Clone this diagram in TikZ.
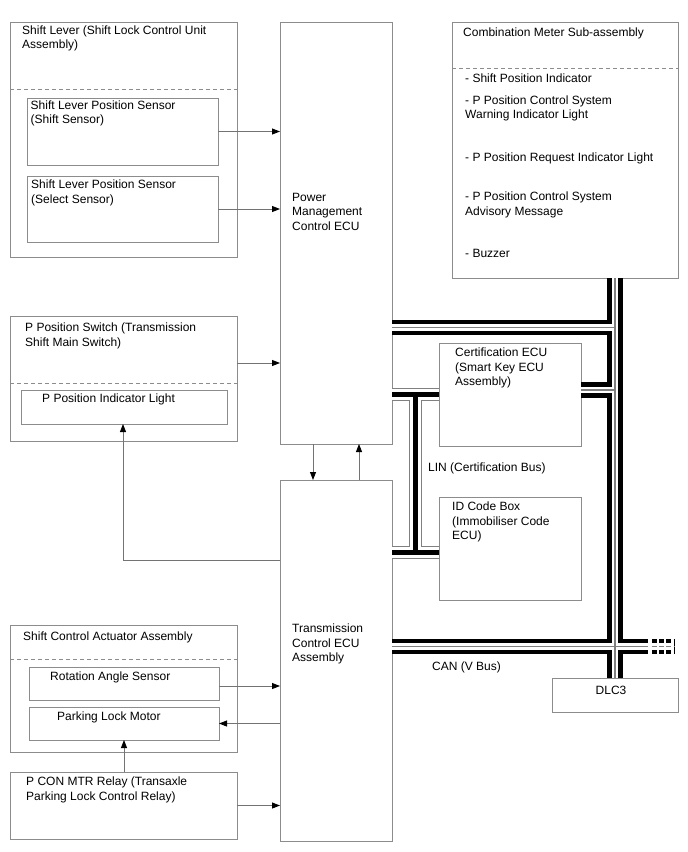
\documentclass[tikz,border=0pt]{standalone}
\usepackage{fontspec}
\setmainfont{Liberation Sans}
\usetikzlibrary{arrows.meta}
\definecolor{boxgray}{gray}{0.55}
\definecolor{linegray}{gray}{0.45}
\newcommand\canpaths[1]{%
 \draw[#1] (pm.east |- 0,327.5) -- (cj1);
 \draw[#1] (cert.east |- 0,390) -- (cj2);
 \draw[#1] (cm.south -| cj1) -- (dlc.north -| cj1);
 \draw[#1] (tcu.east |- 0,646.5) -- (canmid);
}
\newcommand\linpaths[1]{%
 \draw[#1] (pm.east |- 0,394.5) -- (cert.west |- 0,394.5);
 \draw[#1] (pm.east |- 0,552.5) -- (idb.west |- 0,552.5);
 \draw[#1] (lj1) -- (lj2);
}
\begin{document}
\begin{tikzpicture}[x=1pt,y=-1pt,
  box/.style={draw=boxgray, line width=0.9pt, inner sep=0pt, outer sep=0pt, anchor=north west},
  txt/.style={anchor=north west, inner sep=0pt, align=left, font=\fontsize{12}{14.5}\selectfont},
  sep/.style={draw=boxgray, line width=0.9pt, dash pattern=on 4pt off 3pt},
  arr/.style={draw=linegray, line width=0.9pt, -{Triangle[length=8pt,width=6pt,color=black]}},
  canB/.style={line width=15.3pt, black},
  canW/.style={line width=6.3pt, white},
  canG/.style={line width=1.3pt, black!50},
  linG/.style={line width=12.4pt, black!50},
  linW/.style={line width=10.4pt, white},
  linB/.style={line width=4.4pt, black},
]
\useasboundingbox (0,0) rectangle (688,852);
% boxes
\node[box, minimum width=227pt, minimum height=235pt] (sl) at (10,22) {};
\node[box, minimum width=191pt, minimum height=67pt] (s1) at (27,98) {};
\node[box, minimum width=191pt, minimum height=66pt] (s2) at (27,176) {};
\node[box, minimum width=112pt, minimum height=422pt] (pm) at (280,22) {};
\node[box, minimum width=226pt, minimum height=256pt] (cm) at (452,22) {};
\node[box, minimum width=227pt, minimum height=125pt] (pps) at (10,316) {};
\node[box, minimum width=206pt, minimum height=34pt] (pil) at (21,390) {};
\node[box, minimum width=142pt, minimum height=103pt] (cert) at (439,343) {};
\node[box, minimum width=142pt, minimum height=103pt] (idb) at (439,497) {};
\node[box, minimum width=112pt, minimum height=361pt] (tcu) at (280,480) {};
\node[box, minimum width=227pt, minimum height=127pt] (sca) at (10,625) {};
\node[box, minimum width=190pt, minimum height=33pt] (ras) at (29,667) {};
\node[box, minimum width=190pt, minimum height=33pt] (plm) at (29,707) {};
\node[box, minimum width=227pt, minimum height=67pt] (rel) at (10,772) {};
\node[box, minimum width=126pt, minimum height=34pt] (dlc) at (552,678) {};
% dashed separators
\draw[sep] (sl.west |- 0,89) -- (sl.east |- 0,89);
\draw[sep] (cm.west |- 0,68) -- (cm.east |- 0,68);
\draw[sep] (pps.west |- 0,383) -- (pps.east |- 0,383);
\draw[sep] (sca.west |- 0,659) -- (sca.east |- 0,659);
% texts
\node[txt] (tsl) at (22,25.6) {Shift Lever (Shift Lock Control Unit\\Assembly)};
\node[txt] (ts1) at (30.5,100.6) {Shift Lever Position Sensor\\(Shift Sensor)};
\node[txt] (ts2) at (31,179.6) {Shift Lever Position Sensor\\(Select Sensor)};
\node[txt] (tpm) at (292,192.6) {Power\\Management\\Control ECU};
\node[txt] (tcm) at (463,27.6) {Combination Meter Sub-assembly};
\node[txt] (tcm1) at (465,73.6) {- Shift Position Indicator};
\node[txt] (tcm2) at (465,95.6) {- P Position Control System\\Warning Indicator Light};
\node[txt] (tcm3) at (465,152.6) {- P Position Request Indicator Light};
\node[txt] (tcm4) at (465,191.6) {- P Position Control System\\Advisory Message};
\node[txt] (tcm5) at (465,248.6) {- Buzzer};
\node[txt] (tpps) at (25,322.6) {P Position Switch (Transmission\\Shift Main Switch)};
\node[txt] (tpil) at (42,393.6) {P Position Indicator Light};
\node[txt] (tcert) at (455,347.6) {Certification ECU\\(Smart Key ECU\\Assembly)};
\node[txt] (tlin) at (428,462.6) {LIN (Certification Bus)};
\node[txt] (tidb) at (452,501.6) {ID Code Box\\(Immobiliser Code\\ECU)};
\node[txt] (ttcu) at (292,623.6) {Transmission\\Control ECU\\Assembly};
\node[txt] (tsca) at (23,631.6) {Shift Control Actuator Assembly};
\node[txt] (tras) at (50,671.6) {Rotation Angle Sensor};
\node[txt] (tplm) at (57,711.6) {Parking Lock Motor};
\node[txt] (trel) at (26,776.6) {P CON MTR Relay (Transaxle\\Parking Lock Control Relay)};
\node[txt] (tcan) at (432,661.6) {CAN (V Bus)};
\node[inner sep=0pt, font=\fontsize{12}{14.5}\selectfont] (tdlc) at (611,690) {DLC3};
% arrows
\draw[arr] (s1.east) -- (s1.east -| pm.west);
\draw[arr] (s2.east) -- (s2.east -| pm.west);
\draw[arr] (pps.east |- 0,363) -- (pm.west |- 0,363);
\draw[arr] (tcu.west |- 0,560) -| (pil.south -| 123,0);
\draw[arr] (pm.south -| 313,0) -- (tcu.north -| 313,0);
\draw[arr] (tcu.north -| 359,0) -- (pm.south -| 359,0);
\draw[arr] (ras.east |- 0,686) -- (tcu.west |- 0,686);
\draw[arr] (tcu.west |- plm.east) -- (plm.east);
\draw[arr] (rel.east) -- (rel.east -| tcu.west);
\draw[arr] (rel.north -| 124,0) -- (plm.south -| 124,0);
% buses
\coordinate (cj1) at (615,327.5);
\coordinate (cj2) at (615,390);
\coordinate (canmid) at (648,646.5);
\coordinate (cand1) at (652,646.5);
\coordinate (cand2) at (674,646.5);
\coordinate (lj1) at (415.5,394.5);
\coordinate (lj2) at (415.5,552.5);
\canpaths{canB}
\canpaths{canW}
\canpaths{canG}
\draw[canB, dash pattern=on 4.5pt off 2.7pt] (cand1) -- (cand2);
\draw[canW] (cand1) -- (cand2);
\draw[canG, dash pattern=on 4.5pt off 2.7pt] (cand1) -- (cand2);
\linpaths{linG}
\linpaths{linW}
\linpaths{linB}
\end{tikzpicture}
\end{document}
